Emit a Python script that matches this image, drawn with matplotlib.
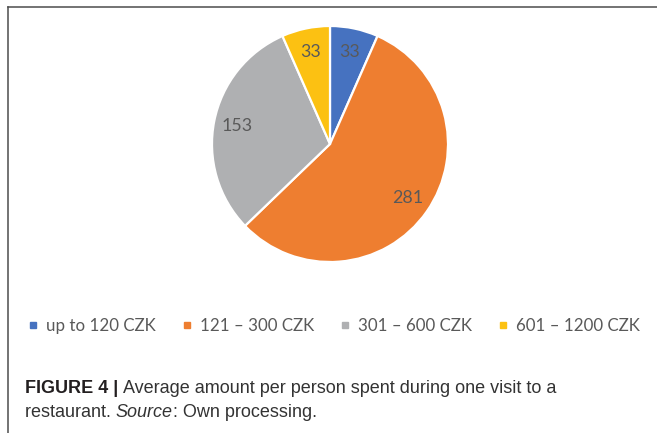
import matplotlib
matplotlib.use("Agg")
from matplotlib import pyplot as plt
from matplotlib.lines import Line2D

# data
categories = ["up to 120 CZK", "121 \u2013 300 CZK", "301 \u2013 600 CZK", "601 \u2013 1200 CZK"]
counts = [33, 281, 153, 33]
colors = ["#4672C0", "#EE7E30", "#AFB0B2", "#FCC112"]

label_color = "#595959"
W, H = 657, 433

fig = plt.figure(figsize=(W / 100, H / 100), dpi=100)

# pie: centre (330, 144) px, radius 118 px
cx, cy, r = 330, 144, 118
ax = fig.add_axes([(cx - r) / W, (H - cy - r) / H, 2 * r / W, 2 * r / H])
wedges, texts, autotexts = ax.pie(
    counts, colors=colors, startangle=90, counterclock=False,
    autopct=lambda p: "%d" % round(p * sum(counts) / 100.0),
    pctdistance=0.8, radius=1.0,
    wedgeprops=dict(edgecolor="white", linewidth=1.6),
    textprops=dict(color=label_color, fontsize=12.8, family="Lato"))
ax.set_xlim(-1, 1)
ax.set_ylim(-1, 1)
ax.set_aspect("equal")
ax.axis("off")

# legend
handles = [Line2D([], [], marker="s", linestyle="none", markersize=4.5,
                  markerfacecolor=c, markeredgecolor=c) for c in colors]
leg = fig.legend(handles, categories, loc="center", bbox_to_anchor=(0.5 + 6.0 / W, 1 - 326 / H),
                 ncol=4, frameon=False, handlelength=0.5, handletextpad=0.5,
                 columnspacing=1.6, borderpad=0,
                 prop=dict(family="Lato", size=12.2))
for t in leg.get_texts():
    t.set_color(label_color)

# frame lines (top and left only, the rest is cropped)
fig.add_artist(Line2D([7.5 / W, 1], [1 - 6.5 / H, 1 - 6.5 / H], transform=fig.transFigure,
                      color="#4d4d4d", linewidth=1.1))
fig.add_artist(Line2D([7.5 / W, 7.5 / W], [0, 1 - 6.5 / H], transform=fig.transFigure,
                      color="#4d4d4d", linewidth=1.1))

# caption with mixed styles
renderer = fig.canvas.get_renderer()
cap_font = dict(family="Liberation Sans", size=13, color="#333333")


def put_segments(x, y, segments):
    for s, style in segments:
        kw = dict(cap_font)
        kw.update(style)
        t = fig.text(x, y, s, va="baseline", ha="left", **kw)
        bb = t.get_window_extent(renderer)
        x = bb.x1 / W


put_segments(25 / W, 1 - 393 / H, [
    ("FIGURE 4 | ", dict(weight="bold", color="#231f20")),
    ("Average amount per person spent during one visit to a", {}),
])
put_segments(25 / W, 1 - 417 / H, [
    ("restaurant. ", {}),
    ("Source", dict(style="italic")),
    (": Own processing.", {}),
])

fig.savefig("out.png", dpi=100)
